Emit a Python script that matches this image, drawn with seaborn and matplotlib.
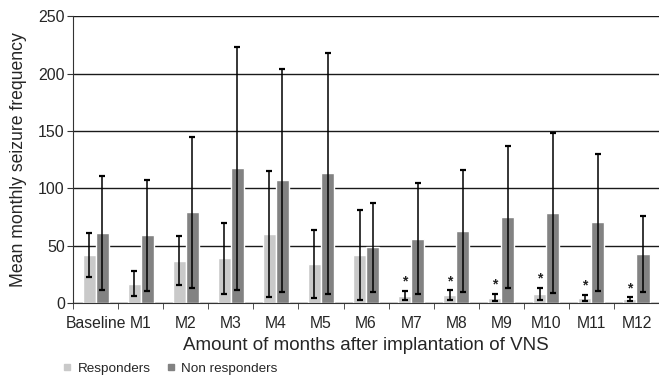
import pandas as pd
import matplotlib.pyplot as plt
import seaborn as sns
from matplotlib.lines import Line2D

months = ["Baseline", "M1", "M2", "M3", "M4", "M5", "M6",
          "M7", "M8", "M9", "M10", "M11", "M12"]
resp_mean = [42, 17, 37, 39, 60, 34, 42, 6.4, 6.7, 4.7, 8, 4.4, 3.2]
resp_err = [19, 11, 21, 31, 55, 30, 39, 4, 4.3, 3.3, 5.5, 2.8, 1.8]
nonresp_mean = [61, 59, 79, 117.5, 107, 113, 48.5, 56, 62.7, 75, 78.7, 70.3, 43]
nonresp_err = [49.5, 48.5, 65.5, 106, 97, 105, 39, 48.5, 53.3, 61.5, 69.7, 59.7, 33]
significant = [False] * 7 + [True] * 6

sns.set_style("white")
plt.rcParams["font.family"] = ["Liberation Sans", "DejaVu Sans"]

df = pd.DataFrame({
    "month": months * 2,
    "value": resp_mean + nonresp_mean,
    "group": ["Responders"] * len(months) + ["Non responders"] * len(months),
})
colors = {"Responders": "#c9c9c9", "Non responders": "#828282"}

fig = plt.figure(figsize=(6.59, 3.76), dpi=100)
ax = fig.add_axes([0.111, 0.194, 0.889, 0.763])
sns.barplot(data=df, x="month", y="value", hue="group", palette=colors,
            width=0.58, gap=0, errorbar=None, legend=False, ax=ax,
            saturation=1)

# error bars on top of each bar
bars = ax.patches
n = len(months)
for i in range(n):
    for b, m, e in [(bars[i], resp_mean[i], resp_err[i]),
                    (bars[n + i], nonresp_mean[i], nonresp_err[i])]:
        cx = b.get_x() + b.get_width() / 2
        ax.errorbar(cx, m, yerr=e, color="black", lw=1.1, capsize=2.5,
                    capthick=1.6, zorder=4)
    if significant[i]:
        cx = bars[i].get_x() + bars[i].get_width() / 2
        ax.text(cx, resp_mean[i] + resp_err[i] + 2, "*", ha="center",
                va="bottom", fontsize=10, fontweight="bold", color="#222222")

ax.set_ylim(0, 250)
ax.set_xlim(-0.5, n - 0.5)
ax.set_yticks([0, 50, 100, 150, 200, 250])
ax.yaxis.grid(True, color="#1a1a1a", lw=1.0)
ax.set_axisbelow(True)
for s in ["top", "right"]:
    ax.spines[s].set_visible(False)
ax.spines["left"].set_color("#333333")
ax.spines["bottom"].set_color("#333333")
ax.tick_params(axis="y", left=True, length=4, labelsize=11.5, color="#333333", pad=2)
ax.tick_params(axis="x", bottom=False, labelsize=11.3, pad=6)
ax.set_xticks([i + 0.5 for i in range(-1, n)], minor=True)
ax.tick_params(axis="x", which="minor", bottom=True, length=4, color="#333333")

ax.set_ylabel("Mean monthly seizure frequency", fontsize=12.7, labelpad=8)
ax.set_xlabel("Amount of months after implantation of VNS", fontsize=13.5, labelpad=4)

handles = [Line2D([], [], ls="none", marker="s", markersize=4,
                  color=colors[g]) for g in ["Responders", "Non responders"]]
fig.legend(handles, ["Responders", "Non responders"], loc="center left",
           bbox_to_anchor=(0.095, 0.019), ncol=2, frameon=False, fontsize=9.7,
           handlelength=0.6, handletextpad=0.5, columnspacing=1.2,
           borderpad=0, borderaxespad=0)

fig.savefig("out.png", dpi=100)
